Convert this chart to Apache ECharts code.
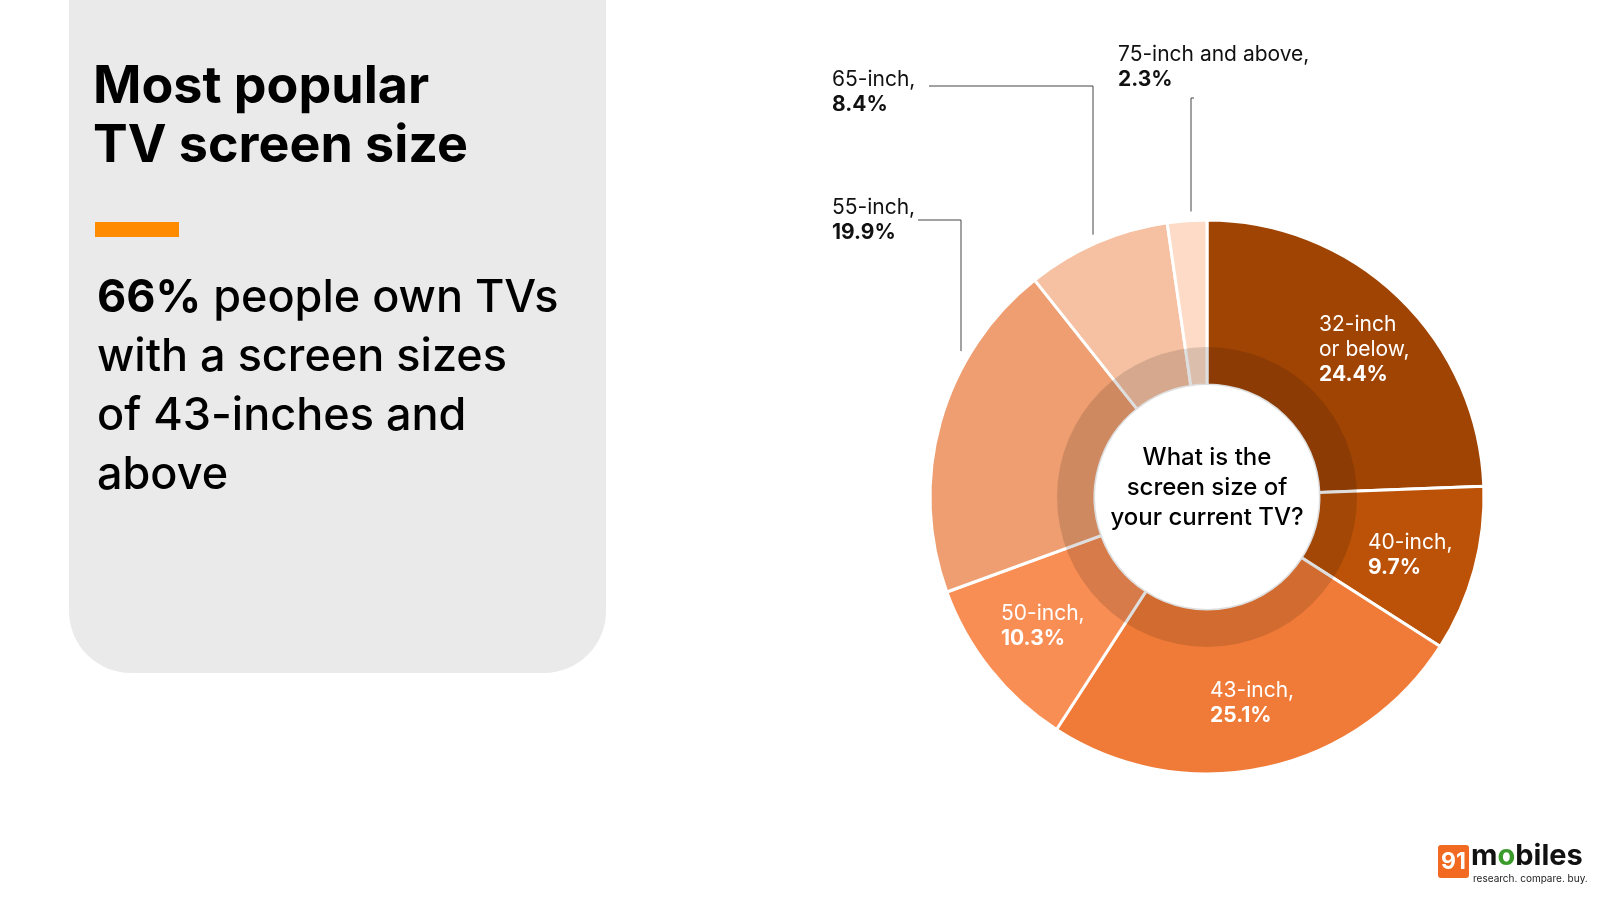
<!DOCTYPE html>
<html>
<head>
<meta charset="utf-8">
<script src="https://cdn.jsdelivr.net/npm/echarts@6/dist/echarts.min.js"></script>
<style>
html, body { margin: 0; padding: 0; background: #fff; }
#chart { width: 1600px; height: 900px; }
</style>
</head>
<body>
<div id="chart"></div>
<script>
// screen sizes, clockwise from 12 o'clock
var sizes = ['32-inch\nor below', '40-inch', '43-inch', '50-inch', '55-inch', '65-inch', '75-inch and above']
var shares = [24.4, 9.7, 25.1, 10.3, 19.9, 8.4, 2.3]
var outsideLabel = [false, false, false, false, true, true, true]

var colors = ['#a04404', '#bb5207', '#f07b38', '#f98e55', '#ee9e70', '#f6c1a2', '#fddbc6']
var cx = 1207, cy = 497, rOuter = 277, rInner = 112

// where each label text starts (top-left)
var labelSpots = [[1319, 312], [1368, 530], [1210, 678], [1001, 601], [832, 195], [832, 67], [1118, 42]]
// leader lines for outside labels: [x of label end, y of elbow, x of vertical]
var leaders = { 4: [918, 220, 961], 5: [929, 86, 1093], 6: [1194, 98, 1191] }

var font = 'Inter'

var chart = echarts.init(document.getElementById('chart'))

var pieData = sizes.map(function (name, i) {
  var item = { name: name, value: shares[i], itemStyle: { color: colors[i] } }
  if (outsideLabel[i]) {
    item.label = { position: 'outside', color: '#111' }
    item.labelLine = { show: true, lineStyle: { color: '#444', width: 1 } }
  }
  return item
})

chart.setOption({
  backgroundColor: '#fff',
  animation: false,
  graphic: [
    {
      type: 'rect',
      shape: { x: 69, y: -80, width: 537, height: 753, r: [0, 0, 62, 62] },
      style: { fill: '#eaeaea' },
      z: 0
    },
    {
      type: 'text',
      left: 93, top: 58,
      style: {
        text: 'Most popular\nTV screen size',
        font: 'bold 52px ' + font,
        lineHeight: 59,
        fill: '#000'
      }
    },
    {
      type: 'rect',
      shape: { x: 95, y: 222, width: 84, height: 15 },
      style: { fill: '#ff8c00' }
    },
    {
      type: 'text',
      left: 97, top: 276,
      style: {
        text: '{b|66%}{n| people own TVs}\n{n|with a screen sizes}\n{n|of 43-inches and}\n{n|above}',
        rich: {
          b: { font: 'bold 45px ' + font, fill: '#000', lineHeight: 59 },
          n: { font: '500 45px ' + font, fill: '#000', lineHeight: 59 }
        }
      }
    },
    {
      type: 'text',
      x: cx, y: 443,
      style: {
        text: 'What is the\nscreen size of\nyour current TV?',
        font: '500 24px ' + font,
        lineHeight: 30,
        align: 'center',
        verticalAlign: 'top',
        fill: '#000'
      }
    },
    {
      type: 'rect',
      shape: { x: 1438, y: 845, width: 31, height: 33, r: 3 },
      style: { fill: '#f26a21' }
    },
    {
      type: 'text',
      x: 1453.5, y: 862,
      style: { text: '91', font: 'bold 23px ' + font, fill: '#fff', align: 'center', verticalAlign: 'middle' }
    },
    {
      type: 'text',
      left: 1471, top: 842,
      style: {
        text: '{a|m}{g|o}{a|biles}',
        rich: {
          a: { font: 'bold 29px ' + font, fill: '#111' },
          g: { font: 'bold 29px ' + font, fill: '#3a9a2a' }
        }
      }
    },
    {
      type: 'text',
      left: 1473, top: 874,
      style: { text: 'research. compare. buy.', font: '10px ' + font, fill: '#222' }
    }
  ],
  series: [
    {
      type: 'pie',
      center: [cx, cy],
      radius: [rInner, rOuter],
      startAngle: 90,
      clockwise: true,
      avoidLabelOverlap: false,
      itemStyle: { borderColor: '#fff', borderWidth: 3 },
      label: {
        show: true,
        position: 'inside',
        color: '#fff',
        formatter: function (p) {
          var lines = p.name.split('\n')
          return lines.map(function (l, k) {
            return '{n|' + l + (k === lines.length - 1 ? ',' : '') + '}'
          }).join('\n') + '\n{b|' + p.value + '%}'
        },
        rich: {
          n: { fontFamily: font, fontSize: 21, lineHeight: 25 },
          b: { fontFamily: font, fontSize: 21, fontWeight: 'bold', lineHeight: 25 }
        }
      },
      labelLine: { show: false },
      labelLayout: function (p) {
        var i = p.dataIndex
        var s = labelSpots[i]
        var res = { x: s[0], y: s[1], align: 'left', verticalAlign: 'top' }
        var ld = leaders[i]
        if (ld) {
          var dx = ld[2] - cx
          var rr = rOuter + 9
          var endY = cy - Math.sqrt(rr * rr - dx * dx)
          res.labelLinePoints = [[ld[2], endY], [ld[2], ld[1]], [ld[0], ld[1]]]
        }
        return res
      },
      data: pieData,
      z: 2
    },
    {
      type: 'pie',
      center: [cx, cy],
      radius: [rInner, 150],
      silent: true,
      label: { show: false },
      labelLine: { show: false },
      itemStyle: { color: 'rgba(0,0,0,0.13)' },
      data: [{ value: 1, name: 'band' }],
      z: 3
    }
  ]
})
</script>
</body>
</html>
